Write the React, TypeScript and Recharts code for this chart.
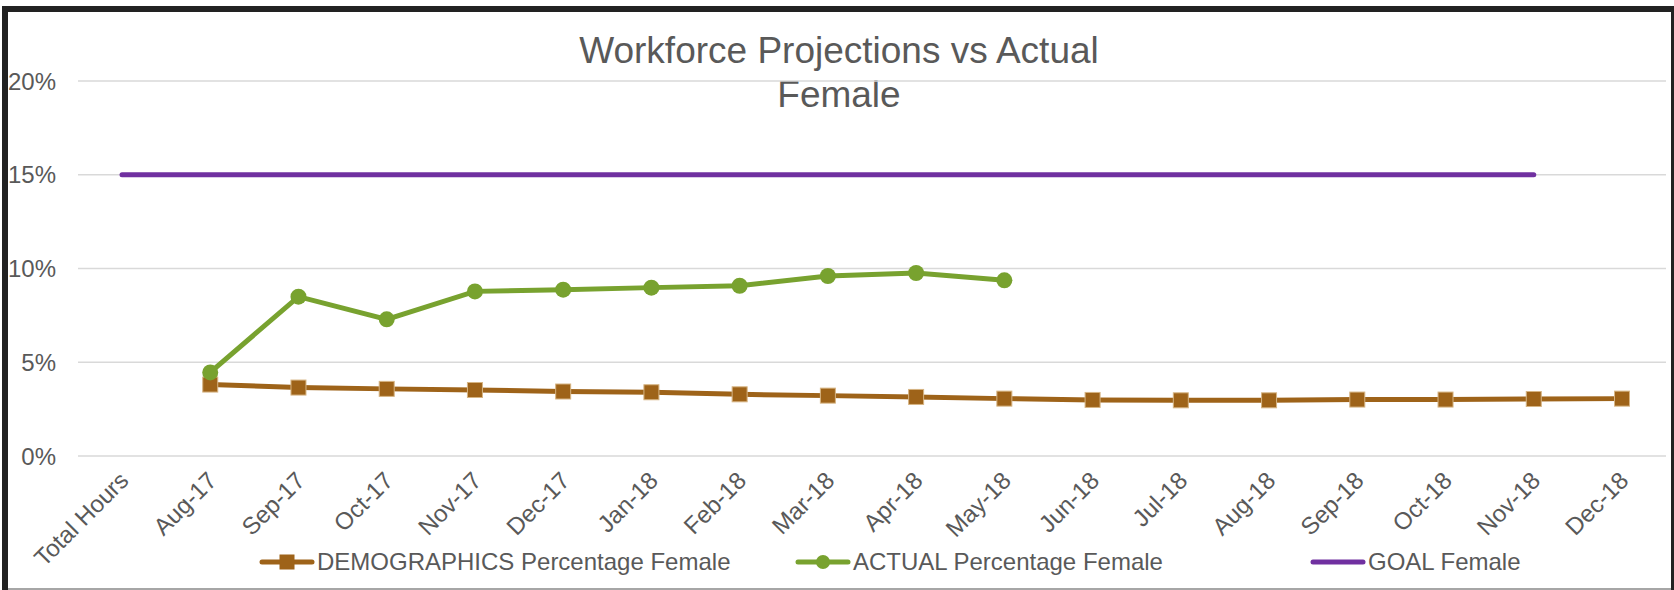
import React from 'react';
import { LineChart, Line, XAxis, YAxis, CartesianGrid, Legend } from 'recharts';

const categories = [
  'Total Hours', 'Aug-17', 'Sep-17', 'Oct-17', 'Nov-17', 'Dec-17', 'Jan-18', 'Feb-18', 'Mar-18',
  'Apr-18', 'May-18', 'Jun-18', 'Jul-18', 'Aug-18', 'Sep-18', 'Oct-18', 'Nov-18', 'Dec-18',
];
const demographics = [
  null, 3.81, 3.65, 3.58, 3.52, 3.44, 3.4, 3.29, 3.22, 3.15, 3.06, 2.99, 2.97, 2.97, 3.01, 3.01, 3.04, 3.06,
];
const actual = [
  null, 4.46, 8.5, 7.29, 8.78, 8.87, 8.98, 9.08, 9.6, 9.76, 9.37, null, null, null, null, null, null, null,
];
const goal = [15, 15, 15, 15, 15, 15, 15, 15, 15, 15, 15, 15, 15, 15, 15, 15, 15, null];
const yTicks = [0, 5, 10, 15, 20];

const data = categories.map((name, i) => ({
  name,
  demographics: demographics[i],
  actual: actual[i],
  goal: goal[i],
}));

const FONT = '"Liberation Sans", Arial, sans-serif';
const TEXT = '#595959';
const BROWN = '#9E6319';
const GREEN = '#78A22F';
const PURPLE = '#7030A0';

const SquareDot = (props: any) => {
  const { cx, cy, value } = props;
  if (cx == null || cy == null || value == null) return <g key={props.key} />;
  return <rect key={props.key} x={cx - 7.5} y={cy - 7.5} width={15} height={15} fill={BROWN} stroke="#d6b483" strokeWidth={1} />;
};

const XTick = ({ x, y, payload }: any) => (
  <g transform={`translate(${x + 8},${y + 26})`}>
    <text textAnchor="end" transform="rotate(-45)" fontSize={24} fill={TEXT} fontFamily={FONT}>
      {payload.value}
    </text>
  </g>
);

const legendItems = [
  { label: 'DEMOGRAPHICS Percentage Female', color: BROWN, marker: 'square', left: 259 },
  { label: 'ACTUAL Percentage Female', color: GREEN, marker: 'circle', left: 795 },
  { label: 'GOAL Female', color: PURPLE, marker: 'none', left: 1310 },
];

const renderLegend = () => (
  <div style={{ position: 'relative', width: 1674, height: 40 }}>
    {legendItems.map((it) => (
      <div key={it.label} style={{ position: 'absolute', left: it.left, top: 0, height: 40, display: 'flex', alignItems: 'center' }}>
        <svg width={56} height={20}>
          <line x1={3} y1={10} x2={53} y2={10} stroke={it.color} strokeWidth={5} strokeLinecap="round" />
          {it.marker === 'square' && <rect x={20.5} y={2.5} width={15} height={15} fill={it.color} />}
          {it.marker === 'circle' && <circle cx={28} cy={10} r={7} fill={it.color} />}
        </svg>
        <span style={{ fontFamily: FONT, fontSize: 24, color: TEXT, marginLeft: 2, whiteSpace: 'nowrap' }}>{it.label}</span>
      </div>
    ))}
  </div>
);

export default function App() {
  return (
    <div style={{ position: 'absolute', left: 0, top: 0, width: 1674, height: 590, background: '#fff', overflow: 'hidden' }}>
      {/* frame */}
      <div style={{ position: 'absolute', left: 2, top: 6, width: 6, height: 584, background: '#222' }} />
      <div style={{ position: 'absolute', left: 2, top: 6, width: 1672, height: 6, background: '#222' }} />
      <div style={{ position: 'absolute', left: 1671, top: 6, width: 3, height: 584, background: '#222' }} />
      <div style={{ position: 'absolute', left: 8, top: 588, width: 1663, height: 2, background: '#a6a6a6' }} />

      <div
        style={{
          position: 'absolute', left: 439, top: 29, width: 800, textAlign: 'center',
          fontFamily: FONT, fontSize: 37, lineHeight: '43.5px', color: TEXT,
        }}
      >
        Workforce Projections vs Actual
        <br />
        Female
      </div>

      <LineChart width={1674} height={590} data={data} margin={{ top: 81, right: 8, left: 0, bottom: 8 }}>
        <CartesianGrid vertical={false} stroke="#d9d9d9" strokeWidth={1.5} />
        <XAxis
          dataKey="name"
          interval={0}
          tick={<XTick />}
          tickLine={false}
          axisLine={false}
          tickSize={0}
          tickMargin={0}
          height={86}
          padding={{ left: 44, right: 44 }}
        />
        <YAxis
          domain={[0, 20]}
          ticks={yTicks}
          tickFormatter={(v) => `${v}%`}
          tick={{ fontSize: 24, fill: TEXT, fontFamily: FONT }}
          tickLine={false}
          axisLine={false}
          tickSize={0}
          tickMargin={22}
          width={78}
        />
        <Legend verticalAlign="bottom" height={40} content={renderLegend} wrapperStyle={{ left: 0, width: 1674 }} />
        <Line
          type="linear"
          dataKey="demographics"
          name="DEMOGRAPHICS Percentage Female"
          stroke={BROWN}
          strokeWidth={5}
          dot={<SquareDot />}
          activeDot={false}
          isAnimationActive={false}
        />
        <Line
          type="linear"
          dataKey="actual"
          name="ACTUAL Percentage Female"
          stroke={GREEN}
          strokeWidth={5}
          dot={{ r: 8, fill: GREEN, stroke: GREEN, strokeWidth: 0 }}
          activeDot={false}
          isAnimationActive={false}
        />
        <Line
          type="linear"
          dataKey="goal"
          name="GOAL Female"
          stroke={PURPLE}
          strokeWidth={5}
          strokeLinecap="round"
          dot={false}
          activeDot={false}
          isAnimationActive={false}
        />
      </LineChart>
    </div>
  );
}
